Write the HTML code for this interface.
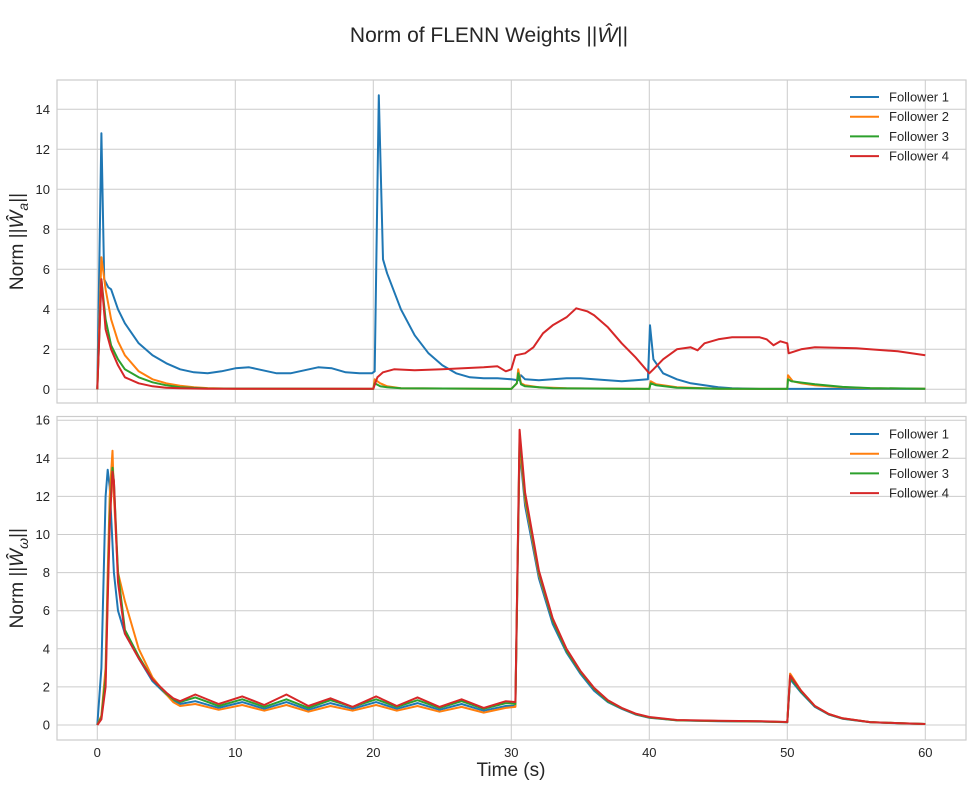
<!DOCTYPE html>
<html><head><meta charset="utf-8"><style>
body{margin:0;background:#fff;}
svg{font-family:"Liberation Sans","DejaVu Sans",sans-serif;}
</style></head><body>
<svg id="fig" width="977" height="784" viewBox="0 0 977 784">
<text x="489" y="42" text-anchor="middle" font-size="21" fill="#262626">Norm of FLENN Weights ||<tspan font-style="italic">Ŵ</tspan>||</text>
</svg>
<script>
// ---------- data ----------
const xTicks=[0,10,20,30,40,50,60];
const yTicksTop=[0,2,4,6,8,10,12,14];
const yTicksBot=[0,2,4,6,8,10,12,14,16];
const seriesNames=["Follower 1","Follower 2","Follower 3","Follower 4"];
const colors=["#1f77b4","#ff7f0e","#2ca02c","#d62728"];

const a1T=[0,0.3,0.5,0.8,1.0,1.5,2,3,4,5,6,7,8,9,10,11,12,13,14,15,16,17,18,19,19.9,20.1,20.4,20.7,21,22,23,24,25,26,27,28,29,30,30.5,30.7,31,32,33,34,35,36,37,38,39,39.9,40.05,40.3,41,42,43,44,45,46,48,50,60];
const a1V=[0,12.8,5.5,5.1,5.0,4.0,3.3,2.3,1.7,1.3,1.0,0.85,0.8,0.9,1.05,1.1,0.95,0.8,0.8,0.95,1.1,1.05,0.85,0.8,0.8,0.9,14.7,6.5,5.8,4.0,2.7,1.8,1.2,0.8,0.6,0.55,0.55,0.5,0.45,0.7,0.5,0.45,0.5,0.55,0.55,0.5,0.45,0.4,0.45,0.5,3.2,1.5,0.8,0.5,0.3,0.2,0.1,0.05,0.02,0.02,0.02];
const a2T=[0,0.3,0.6,1,1.5,2,3,4,5,6,7,8,10,20,20.1,20.5,21,22,30,30.4,30.5,30.7,31,32,34,40,40.1,40.5,42,45,50,50.05,50.4,51,52,54,56,60];
const a2V=[0,6.6,5.0,3.5,2.4,1.7,0.9,0.5,0.3,0.18,0.1,0.06,0.03,0.02,0.5,0.3,0.15,0.05,0.02,0.3,1.0,0.3,0.2,0.1,0.05,0.02,0.4,0.25,0.1,0.03,0.02,0.7,0.4,0.3,0.2,0.1,0.05,0.03];
const a3T=[0,0.3,0.6,1,1.5,2,2.5,3,4,5,6,8,20,20.1,20.5,21,22,30,30.4,30.5,30.7,31,33,40,40.1,40.5,42,45,50,50.05,50.3,52,54,56,60];
const a3V=[0,5.5,3.5,2.2,1.5,1.0,0.8,0.6,0.35,0.2,0.1,0.04,0.02,0.3,0.15,0.1,0.05,0.02,0.3,0.8,0.25,0.15,0.05,0.02,0.3,0.2,0.08,0.03,0.02,0.5,0.4,0.25,0.12,0.06,0.03];
const a4T=[0,0.3,0.6,1,1.5,2,3,4,5,6,8,20,20.3,20.7,21.5,23,25,28,29,29.6,30,30.3,31,31.6,32.3,33,34,34.7,35.5,36,37,38,39,40,40.3,41,42,43,43.5,44,45,46,47,48,48.5,49,49.5,50,50.1,51,52,55,58,60];
const a4V=[0,5.5,3.0,2.0,1.2,0.6,0.3,0.15,0.08,0.05,0.03,0.03,0.6,0.85,1.0,0.95,1.0,1.1,1.15,0.9,1.0,1.7,1.8,2.1,2.8,3.2,3.6,4.05,3.9,3.7,3.1,2.3,1.6,0.8,1.0,1.5,2.0,2.1,1.95,2.3,2.5,2.6,2.6,2.6,2.5,2.2,2.4,2.3,1.8,2.0,2.1,2.05,1.9,1.7];

const wT=[0,0.3,0.6,0.75,0.9,1.1,1.2,1.5,2,3,4,5,5.5,6,7.1,8.8,10.5,12.1,13.7,15.3,16.9,18.5,20.2,21.7,23.2,24.8,26.4,28.0,29.6,30.3,30.6,31,32,33,34,35,36,37,38,39,40,42,45,48,50,50.2,51,52,53,54,56,58,60];
const w1V=[0,3,12,13.4,12.5,9.5,8,6,4.8,3.5,2.3,1.6,1.3,1.1,1.25,0.9,1.2,0.85,1.2,0.8,1.15,0.85,1.2,0.85,1.15,0.8,1.1,0.75,1.0,1.0,14.5,11.5,7.7,5.3,3.8,2.7,1.8,1.2,0.85,0.55,0.38,0.24,0.2,0.18,0.14,2.4,1.7,0.95,0.55,0.33,0.14,0.09,0.05];
const w2V=[0,0.5,3,8,12,14.4,12,8,6.5,4.0,2.5,1.6,1.2,1.0,1.1,0.8,1.05,0.75,1.05,0.7,1.0,0.75,1.05,0.75,1.0,0.7,0.95,0.65,0.9,0.95,14.8,11.8,7.9,5.5,3.9,2.8,1.9,1.25,0.88,0.58,0.4,0.25,0.21,0.19,0.15,2.7,1.8,1.0,0.58,0.35,0.15,0.1,0.05];
const w3V=[0,0.4,2.5,7,11,13.5,12.8,8,5,3.6,2.4,1.65,1.35,1.2,1.45,1.0,1.35,0.95,1.35,0.9,1.3,0.95,1.35,0.95,1.3,0.9,1.25,0.85,1.15,1.1,15.2,12,8,5.5,3.9,2.8,1.9,1.25,0.88,0.58,0.4,0.25,0.21,0.19,0.15,2.5,1.75,0.98,0.56,0.34,0.15,0.1,0.05];
const w4V=[0,0.3,2,6.5,10.5,13.3,12.8,7.5,4.8,3.5,2.4,1.7,1.4,1.25,1.6,1.1,1.5,1.05,1.6,1.0,1.4,0.95,1.5,1.0,1.45,0.95,1.35,0.9,1.25,1.2,15.5,12.2,8.1,5.6,4.0,2.85,1.95,1.3,0.9,0.6,0.42,0.26,0.22,0.2,0.16,2.6,1.8,1.0,0.58,0.35,0.15,0.1,0.05];

// ---------- layout ----------
const NS="http://www.w3.org/2000/svg";
const svg=document.getElementById('fig');
function el(tag,attrs,parent){const e=document.createElementNS(NS,tag);for(const k in attrs)e.setAttribute(k,attrs[k]);(parent||svg).appendChild(e);return e;}
const X0=57,X1=966;
function xs(t){return 97.3+t*13.8;}
const panels=[
 {name:"top",top:80,bot:403,zero:389.3,k:20,ticks:yTicksTop,series:[[a1T,a1V],[a2T,a2V],[a3T,a3V],[a4T,a4V]],sub:"a",legY:97,xlab:false},
 {name:"bottom",top:416.5,bot:740,zero:725,k:19.05,ticks:yTicksBot,series:[[wT,w1V],[wT,w2V],[wT,w3V],[wT,w4V]],sub:"ω",legY:434,xlab:true}
];
panels.forEach(p=>{
 const g=el('g',{});
 
 
 const ys=v=>p.zero-v*p.k;
 el('rect',{x:X0,y:p.top,width:X1-X0,height:p.bot-p.top,fill:'#fff'},g);
 xTicks.forEach(t=>{
  const l=el('line',{x1:xs(t),x2:xs(t),y1:p.top,y2:p.bot,stroke:'#cccccc','stroke-width':1},g);
  
  
  if(p.xlab){const tx=el('text',{x:xs(t),y:p.bot+17,'text-anchor':'middle','font-size':13,fill:'#262626'},g);tx.textContent=t;
   
   }
 });
 p.ticks.forEach(v=>{
  const l=el('line',{x1:X0,x2:X1,y1:ys(v),y2:ys(v),stroke:'#cccccc','stroke-width':1},g);
  
  
  const tx=el('text',{x:50,y:ys(v)+4.5,'text-anchor':'end','font-size':13,fill:'#262626'},g);tx.textContent=v;
  
  
 });
 el('rect',{x:X0,y:p.top,width:X1-X0,height:p.bot-p.top,fill:'none',stroke:'#cccccc','stroke-width':1.2},g);
 p.series.forEach((s,i)=>{
  const d=s[0].map((t,j)=>(j?'L':'M')+xs(t).toFixed(1)+','+ys(s[1][j]).toFixed(1)).join('');
  const path=el('path',{d:d,fill:'none',stroke:colors[i],'stroke-width':2,'stroke-linejoin':'round'},g);
  
  
  const ly=p.legY+i*19.7;
  const lg=el('g',{},g);
  
  
  el('line',{x1:850,x2:879,y1:ly,y2:ly,stroke:colors[i],'stroke-width':2},lg);
  const lt=el('text',{x:889,y:ly+4.5,'font-size':13,fill:'#262626'},lg);lt.textContent=seriesNames[i];
 });
 const cy=(p.top+p.bot)/2;
 const yl=el('text',{x:0,y:0,transform:`translate(23,${cy}) rotate(-90)`,'text-anchor':'middle','font-size':19,fill:'#262626'},g);
 
 
 yl.innerHTML='Norm ||<tspan font-style="italic">Ŵ</tspan><tspan font-size="14" dy="5" font-style="italic">'+p.sub+'</tspan><tspan dy="-5">||</tspan>';
 if(p.xlab){const xl=el('text',{x:511,y:776,'text-anchor':'middle','font-size':19,fill:'#262626'},g);xl.textContent='Time (s)';
  
  }
});
</script>
</body></html>
